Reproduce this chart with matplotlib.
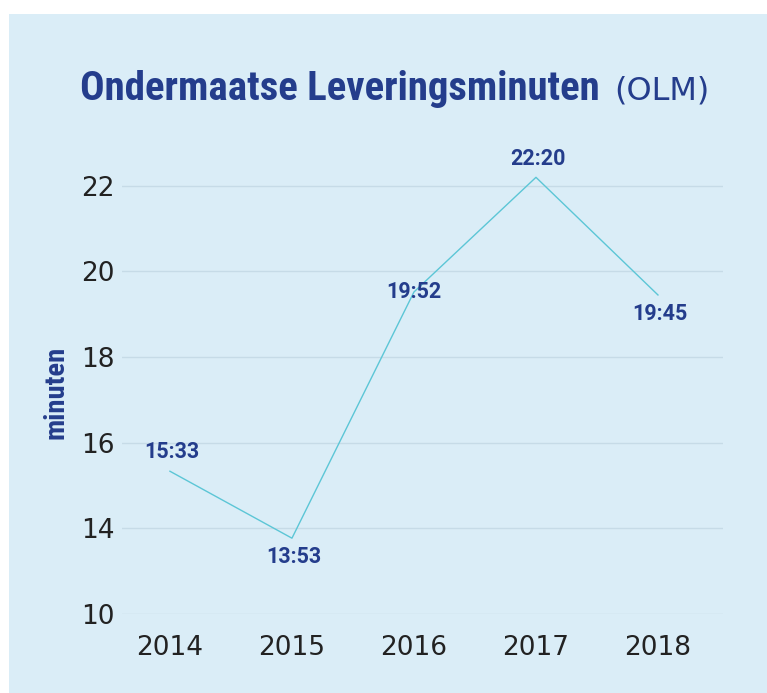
import numpy as np
import matplotlib
matplotlib.use("Agg")
import matplotlib.pyplot as plt
from matplotlib import font_manager as fm
from matplotlib.patches import Rectangle

# ---- data ----
years = [2014, 2015, 2016, 2017, 2018]
values = [15.33, 13.53, 19.52, 22.20, 19.45]
value_labels = ["15:33", "13:53", "19:52", "22:20", "19:45"]
label_side = ["above", "below", "center", "above", "below"]
y_ticks = [10, 14, 16, 18, 20, 22]
title_main = "Ondermaatse Leveringsminuten"
title_suffix = "(OLM)"
y_label = "minuten"

# ---- fonts ----
avail = {f.name for f in fm.fontManager.ttflist}

def pick(cands, default):
    for c in cands:
        if c in avail:
            return c
    return default

cond_font = pick(["Roboto Condensed", "Liberation Sans Narrow", "DejaVu Sans Condensed"], "Roboto")
label_font = pick(["Roboto", "Liberation Sans"], "DejaVu Sans")

# ---- colours ----
bg = "#daedf7"
navy = "#243d8c"
line_c = "#5cc6d6"
grid_c = "#c6dbe7"
tick_c = "#222222"

W, H = 767, 693
fig = plt.figure(figsize=(W / 100, H / 100), dpi=100)
fig.patch.set_facecolor("white")
fig.patches.append(Rectangle((9 / W, 0), 1 - 9 / W, (H - 14) / H, transform=fig.transFigure,
                             facecolor=bg, edgecolor="none", zorder=-10))

ax = fig.add_axes([122 / W, (H - 613.7) / H, 601 / W, (613.7 - 143.1) / H])
ax.set_facecolor("none")

def fwd(v):
    v = np.asarray(v, dtype=float)
    return np.where(v >= 14, v, 14 - (14 - v) * 0.5)

def inv(u):
    u = np.asarray(u, dtype=float)
    return np.where(u >= 14, u, 14 - (14 - u) * 2.0)

ax.set_yscale("function", functions=(fwd, inv))
ax.set_ylim(10, 23)
ax.set_xlim(2013.607, 2018.533)

ax.plot(years, values, color=line_c, lw=1.0, clip_on=False, zorder=3)

for x, v, lab, side in zip(years, values, value_labels, label_side):
    dy = {"above": 13.5, "below": -13.5, "center": 0}[side]
    ax.annotate(lab, (x, v), xytext=(1.5 if side != "center" else 0, dy), textcoords="offset points",
                ha="center", va="center", fontsize=15.5, fontweight="bold", color=navy,
                family=label_font, zorder=4, annotation_clip=False)

ax.set_yticks(y_ticks)
ax.set_yticklabels([str(t) for t in y_ticks])
ax.set_xticks(years)
ax.set_xticklabels([str(y) for y in years])
ax.minorticks_off()
ax.tick_params(axis="both", length=0, labelsize=19, labelcolor=tick_c)
ax.tick_params(axis="y", pad=5)
ax.tick_params(axis="x", pad=15)
for lab in ax.get_xticklabels() + ax.get_yticklabels():
    lab.set_family("DejaVu Sans")
ax.grid(axis="y", color=grid_c, lw=1.0)
ax.grid(axis="x", visible=False)
ax.set_axisbelow(True)
for s in ax.spines.values():
    s.set_visible(False)

fig.text(56 / W, 1 - 392 / H, y_label, rotation=90, ha="center", va="center",
         fontsize=20.5, fontweight="bold", color=navy, family=cond_font)

t1 = fig.text(80 / W, 1 - 100 / H, title_main, ha="left", va="baseline",
              fontsize=29.4, fontweight="bold", color=navy, family=cond_font)
fig.canvas.draw()
bb = t1.get_window_extent()
fig.text(bb.x1 / W + 15 / W, 1 - 100 / H, title_suffix, ha="left", va="baseline",
         fontsize=23, color=navy, family="DejaVu Sans")

fig.savefig("out.png", dpi=100, facecolor=fig.get_facecolor())
